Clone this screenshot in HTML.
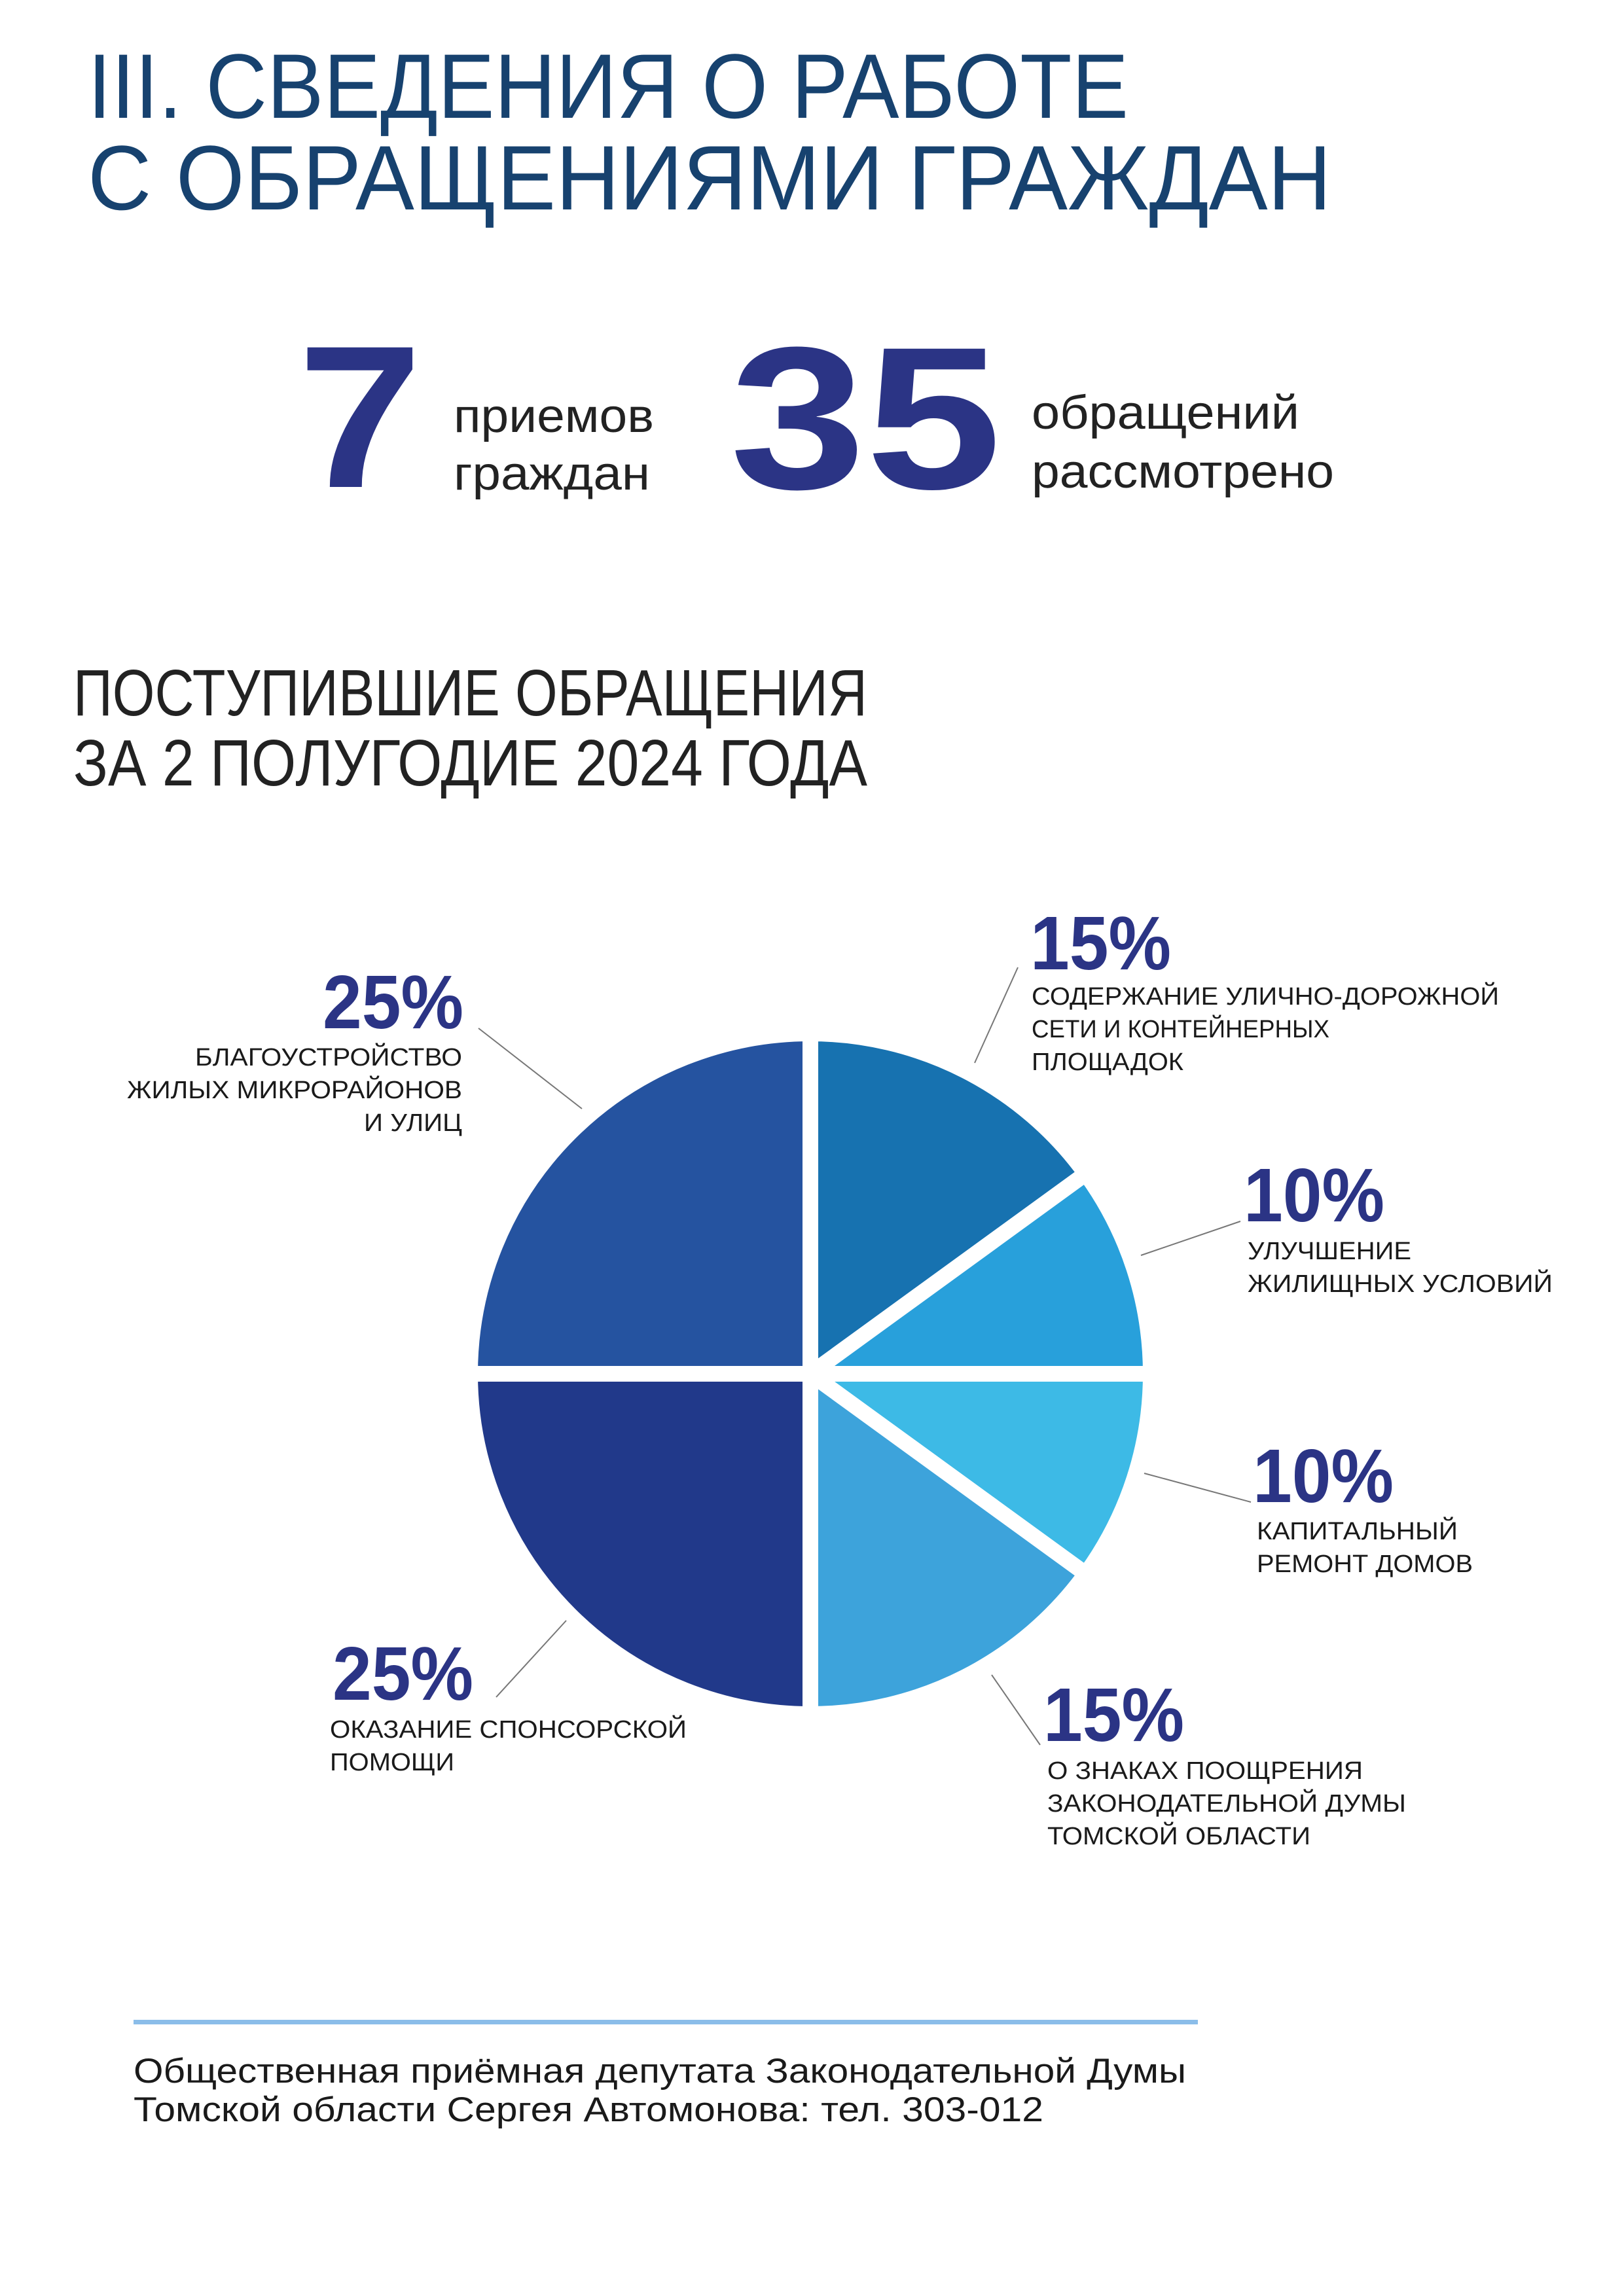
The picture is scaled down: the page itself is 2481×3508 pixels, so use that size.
<!DOCTYPE html>
<html><head><meta charset="utf-8"><style>
html,body{margin:0;padding:0;background:#fff}
svg{display:block}
text{font-family:"Liberation Sans","Noto Sans CJK SC",sans-serif}
</style></head><body>
<svg id="page" width="2481" height="3508" viewBox="0 0 2481 3508" xmlns="http://www.w3.org/2000/svg">
<rect width="2481" height="3508" fill="#fff"/>
<g fill="#17426f" font-size="140">
<text x="134" y="180" textLength="1590" lengthAdjust="spacingAndGlyphs">III. СВЕДЕНИЯ О РАБОТЕ</text>
<text x="134" y="320" textLength="1900" lengthAdjust="spacingAndGlyphs">С ОБРАЩЕНИЯМИ ГРАЖДАН</text>
</g>
<g>
<text x="455" y="744" font-size="310" font-weight="bold" fill="#2b3485" textLength="190" lengthAdjust="spacingAndGlyphs">7</text>
<text x="693" y="660" font-size="72" fill="#222" textLength="306" lengthAdjust="spacingAndGlyphs">приемов</text>
<text x="693" y="748" font-size="72" fill="#222" textLength="300" lengthAdjust="spacingAndGlyphs">граждан</text>
<text x="1115" y="746" font-size="310" font-weight="bold" fill="#2b3485" textLength="415" lengthAdjust="spacingAndGlyphs">35</text>
<text x="1576" y="655" font-size="72" fill="#222" textLength="409" lengthAdjust="spacingAndGlyphs">обращений</text>
<text x="1576" y="745" font-size="72" fill="#222" textLength="462" lengthAdjust="spacingAndGlyphs">рассмотрено</text>
</g>
<g fill="#222" font-size="100">
<text x="112" y="1093" textLength="1213" lengthAdjust="spacingAndGlyphs">ПОСТУПИВШИЕ ОБРАЩЕНИЯ</text>
<text x="112" y="1200" textLength="1213" lengthAdjust="spacingAndGlyphs">ЗА 2 ПОЛУГОДИЕ 2024 ГОДА</text>
</g>
<g id="pie"></g>
<g id="labels"></g>
<rect x="204" y="3086" width="1626" height="7" fill="#8bbde9"/>
<g fill="#1a1a1a" font-size="53">
<text x="204" y="3182" textLength="1608" lengthAdjust="spacingAndGlyphs">Общественная приёмная депутата Законодательной Думы</text>
<text x="204" y="3241" textLength="1390" lengthAdjust="spacingAndGlyphs">Томской области Сергея Автомонова: тел. 303-012</text>
</g>
</svg>
<script>
const categories = ["Содержание улично-дорожной сети и контейнерных площадок","Улучшение жилищных условий","Капитальный ремонт домов","О знаках поощрения Законодательной Думы Томской области","Оказание спонсорской помощи","Благоустройство жилых микрорайонов и улиц"];
const values = [15, 10, 10, 15, 25, 25];
const percentLabels = ["15%","10%","10%","15%","25%","25%"];
const colors = ["#1772b0","#28a0db","#3dbae6","#3da3db","#21398a","#2553a0"];
const labelLines = [
 ["СОДЕРЖАНИЕ УЛИЧНО-ДОРОЖНОЙ","СЕТИ И КОНТЕЙНЕРНЫХ","ПЛОЩАДОК"],
 ["УЛУЧШЕНИЕ","ЖИЛИЩНЫХ УСЛОВИЙ"],
 ["КАПИТАЛЬНЫЙ","РЕМОНТ ДОМОВ"],
 ["О ЗНАКАХ ПООЩРЕНИЯ","ЗАКОНОДАТЕЛЬНОЙ ДУМЫ","ТОМСКОЙ ОБЛАСТИ"],
 ["ОКАЗАНИЕ СПОНСОРСКОЙ","ПОМОЩИ"],
 ["БЛАГОУСТРОЙСТВО","ЖИЛЫХ МИКРОРАЙОНОВ","И УЛИЦ"]
];
const NS="http://www.w3.org/2000/svg";
const cx=1238, cy=2099, R=520;
const pie=document.getElementById('pie');
const total=values.reduce((a,b)=>a+b,0);
function pt(a,r){return [cx+r*Math.sin(a), cy-r*Math.cos(a)];}
let acc=0;
const mids=[];
values.forEach((v,i)=>{
  const a0=acc/total*2*Math.PI; acc+=v; const a1=acc/total*2*Math.PI;
  mids.push((a0+a1)/2);
  const p0=pt(a0,R), p1=pt(a1,R);
  const large=(a1-a0)>Math.PI?1:0;
  const p=document.createElementNS(NS,'path');
  p.setAttribute('d',`M${cx},${cy} L${p0[0]},${p0[1]} A${R},${R} 0 ${large} 1 ${p1[0]},${p1[1]} Z`);
  p.setAttribute('fill',colors[i]);
  p.setAttribute('stroke','#fff');
  p.setAttribute('stroke-width','24');
  p.setAttribute('stroke-linejoin','round');
  
  
  pie.appendChild(p);
});
// label layout (positions only)
const lay=[
 {x:1574,y:1481,anchor:'start',tx:1576,ty:1535,lw:[714,455,232]},
 {x:1900,y:1866,anchor:'start',tx:1906,ty:1924,lw:[250,466]},
 {x:1914,y:2295,anchor:'start',tx:1920,ty:2352,lw:[307,330]},
 {x:1594,y:2660,anchor:'start',tx:1600,ty:2718,lw:[482,548,402]},
 {x:508,y:2597,anchor:'start',tx:504,ty:2655,lw:[545,190]},
 {x:708,y:1571,anchor:'end',tx:706,ty:1628,lw:[408,512,150]}
];
const leaders=[[1489,1624,1555,1478],[1743,1918,1895,1866],[1748,2251,1911,2295],[1515,2559,1589,2666],[865,2476,758,2593],[889,1694,731,1571]];
const lg=document.getElementById('labels');
lay.forEach((L,i)=>{
  const ln=document.createElementNS(NS,'line');
  const c=leaders[i];
  ln.setAttribute('x1',c[0]);ln.setAttribute('y1',c[1]);ln.setAttribute('x2',c[2]);ln.setAttribute('y2',c[3]);
  ln.setAttribute('stroke','#777');ln.setAttribute('stroke-width','2');
  
  
  lg.appendChild(ln);
  const t=document.createElementNS(NS,'text');
  t.setAttribute('x',L.x);t.setAttribute('y',L.y);
  t.setAttribute('text-anchor',L.anchor);
  t.setAttribute('font-size','116');t.setAttribute('font-weight','bold');t.setAttribute('fill','#2b3485');
  t.setAttribute('textLength','215');t.setAttribute('lengthAdjust','spacingAndGlyphs');
  t.textContent=percentLabels[i];
  
  
  lg.appendChild(t);
  labelLines[i].forEach((s,j)=>{
    const u=document.createElementNS(NS,'text');
    u.setAttribute('x',L.tx);u.setAttribute('y',L.ty+j*50);
    u.setAttribute('text-anchor',L.anchor);
    u.setAttribute('font-size','38');u.setAttribute('fill','#1a1a1a');
    u.setAttribute('textLength',L.lw[j]);u.setAttribute('lengthAdjust','spacingAndGlyphs');
    u.textContent=s;
    
    
    lg.appendChild(u);
  });
});
</script>
</body></html>
